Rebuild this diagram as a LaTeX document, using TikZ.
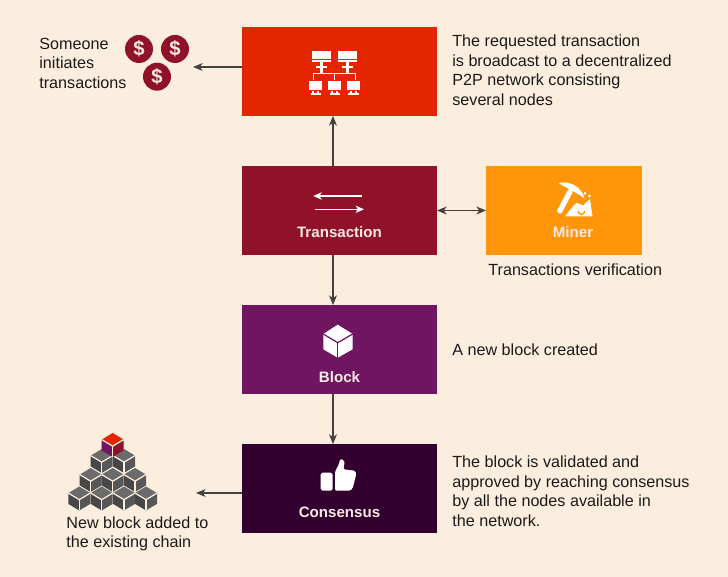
\documentclass[tikz,border=0pt]{standalone}
\usepackage{fontspec}
\usetikzlibrary{arrows.meta}
\setmainfont{Liberation Sans}
\definecolor{paper}{HTML}{FBEEDF}
\definecolor{redbox}{HTML}{E32500}
\definecolor{wine}{HTML}{8F1229}
\definecolor{plum}{HTML}{701560}
\definecolor{night}{HTML}{32002F}
\definecolor{amber}{HTML}{FF9508}
\definecolor{ink}{HTML}{1C1A18}
\definecolor{wire}{HTML}{45413C}
\definecolor{pale}{HTML}{FBE9E4}
\tikzset{
	box/.style={inner sep=0pt, outer sep=0pt, minimum width=3.9cm, minimum height=1.78cm},
	boxlabel/.style={text=pale, font=\fontsize{8.6}{11}\selectfont\bfseries, inner sep=0pt},
	note/.style={text=ink, font=\fontsize{9.2}{11.1}\selectfont, align=left, anchor=west, inner sep=0pt},
	wirearrow/.style={draw=wire, line width=0.6pt, >={Stealth[length=5.5pt, width=4.5pt, inset=1.6pt]}},
	coin/.style={circle, fill=wine, text=pale, minimum size=0.56cm, inner sep=0pt, font=\fontsize{11.5}{12}\selectfont\bfseries},
}
\begin{document}
\begin{tikzpicture}[x=0.02cm, y=-0.02cm]

	\newcommand*{\spineX}{333}%

	\fill [paper] (0,0) rectangle (728,577);
	\useasboundingbox (0,0) rectangle (728,577);

	\node [box, fill=redbox] (network) at (339.5,71.5) {};
	\node [box, fill=wine] (transaction) at (339.5,210.5) {};
	\node [box, fill=plum] (block) at (339.5,349.5) {};
	\node [box, fill=night] (consensus) at (339.5,488.5) {};
	\node [box, fill=amber, minimum width=3.12cm] (miner) at (564,210.5) {};

	\node [boxlabel] (transactionlabel) at (339.5,232) {Transaction};
	\node [boxlabel] (blocklabel) at (339.5,377) {Block};
	\node [boxlabel] (consensuslabel) at (339.5,512) {Consensus};
	\node [boxlabel] (minerlabel) at (573,232) {Miner};

	\node [note] (someone) at (39,63) {Someone\\initiates\\transactions};
	\node [note] (broadcast) at (452,70) {The requested transaction\\is broadcast to a decentralized\\P2P network consisting\\several nodes};
	\node [note] (verification) at (488,270) {Transactions verification};
	\node [note] (created) at (452,349.5) {A new block created};
	\node [note] (validated) at (452,491) {The block is validated and\\approved by reaching consensus\\by all the nodes available in\\the network.};
	\node [note] (added) at (66,534) {New block added to\\the existing chain};

	\node [coin] (coinA) at (139,49) {\$};
	\node [coin] (coinB) at (175,49) {\$};
	\node [coin] (coinC) at (157,76.7) {\$};

	\coordinate (spine) at (\spineX,0);
	\coordinate (coinsend) at (193,67);
	\coordinate (chainend) at (196,493);

	\draw [wirearrow, ->] (network.west |- coinsend) -- (coinsend);
	\draw [wirearrow, ->] (spine |- transaction.north) -- (spine |- network.south);
	\draw [wirearrow, ->] (spine |- transaction.south) -- (spine |- block.north);
	\draw [wirearrow, ->] (spine |- block.south) -- (spine |- consensus.north);
	\draw [wirearrow, <->] (transaction.east) -- (miner.west);
	\draw [wirearrow, ->] (consensus.west |- chainend) -- (chainend);

	% network icon
	\foreach \x in {312.3,338.3}{
		\fill [white] (\x,50.7) rectangle ++(18.7,8.6);
		\fill [white] (\x,60) rectangle ++(18.7,2.4);
		\fill [white] (\x+7.6,62) rectangle ++(3.4,11);
		\fill [white] (\x+3.7,66) rectangle ++(11.3,2);
	}
	\draw [white, line width=0.8pt] (313.3,80) |- (355.7,73.3) -- (355.7,80);
	\draw [white, line width=0.8pt] (334.3,73.3) -- (334.3,80);
	\foreach \x in {309,328,346.7}{
		\fill [white] (\x,81) rectangle ++(13.3,9);
		\fill [white] (\x+3,91) rectangle ++(2,2);
		\fill [white] (\x+8,91) rectangle ++(2,2);
		\fill [white] (\x+1.5,93) rectangle ++(10.3,2);
	}

	% two way icon
	\draw [white, line width=0.6pt, -{Stealth[length=4.8pt, width=4.2pt, inset=1.4pt]}] (361.7,196) -- (313.3,196);
	\draw [white, line width=0.6pt, -{Stealth[length=4.8pt, width=4.2pt, inset=1.4pt]}] (315,209.3) -- (364,209.3);

	% pick and mound
	\draw [white, line width=3pt, line cap=round] (570,191.7) -- (559.8,211);
	\fill [white] (558.5,183) .. controls (570,180.5) and (582,187) .. (584.5,198.5) .. controls (577,192.5) and (567,188.5) .. (558.5,183) -- cycle;
	\fill [white] (565,216.5) -- (574,205) -- (577,203) -- (583,205.5) -- (590,199) -- (592.5,216.5) -- cycle;
	\draw [amber, line width=0.8pt] (578,211) arc (180:0:3.4);
	\fill [white] (585,193.3) circle [radius=1.5];
	\fill [white] (589.3,196) circle [radius=1.5];

	% cube icon
	\fill [white] (337.7,324.7) -- (352.7,334) -- (352.7,349.3) -- (337.7,357.7) -- (323.3,349.3) -- (323.3,334) -- cycle;
	\draw [plum, line width=0.7pt] (323.3,334) -- (337.7,342.7) -- (352.7,334);
	\draw [plum, line width=0.7pt] (337.7,342.7) -- (337.7,357.7);

	% thumb icon
	\fill [white, rounded corners=1pt] (320.7,472.7) rectangle (332.7,490.7);
	\fill [white, rounded corners=0.8pt] (335,490.7) -- (335,471.7) -- (339,464) -- (340,459) -- (344,460) -- (344.5,464) -- (343.3,469.3) -- (355,470.7) -- (356.3,474) -- (352.7,488.3) -- (350,490.7) -- cycle;

	% chain of cubes
	\newcommand*{\isocube}[5]{%
		\fill [#3] (#1,#2) -- (#1+11,#2+6.6) -- (#1,#2+13.2) -- (#1-11,#2+6.6) -- cycle;
		\fill [#4] (#1-11,#2+6.6) -- (#1,#2+13.2) -- (#1,#2+24) -- (#1-11,#2+17.4) -- cycle;
		\fill [#5] (#1+11,#2+6.6) -- (#1,#2+13.2) -- (#1,#2+24) -- (#1+11,#2+17.4) -- cycle;
		\draw [paper, line width=0.7pt] (#1-11,#2+6.6) -- (#1,#2+13.2) -- (#1+11,#2+6.6);
		\draw [paper, line width=0.7pt] (#1,#2+13.2) -- (#1,#2+24);
	}
	\foreach \x/\y in {101.7/449,124/449,90.7/468,112.7/468,135/468,79.3/486.5,101.7/486.5,124/486.5,146/486.5}{
		\isocube{\x}{\y}{black!58}{black!72}{black!66}
	}
	\isocube{112.7}{433}{redbox}{plum}{wine}

\end{tikzpicture}
\end{document}
